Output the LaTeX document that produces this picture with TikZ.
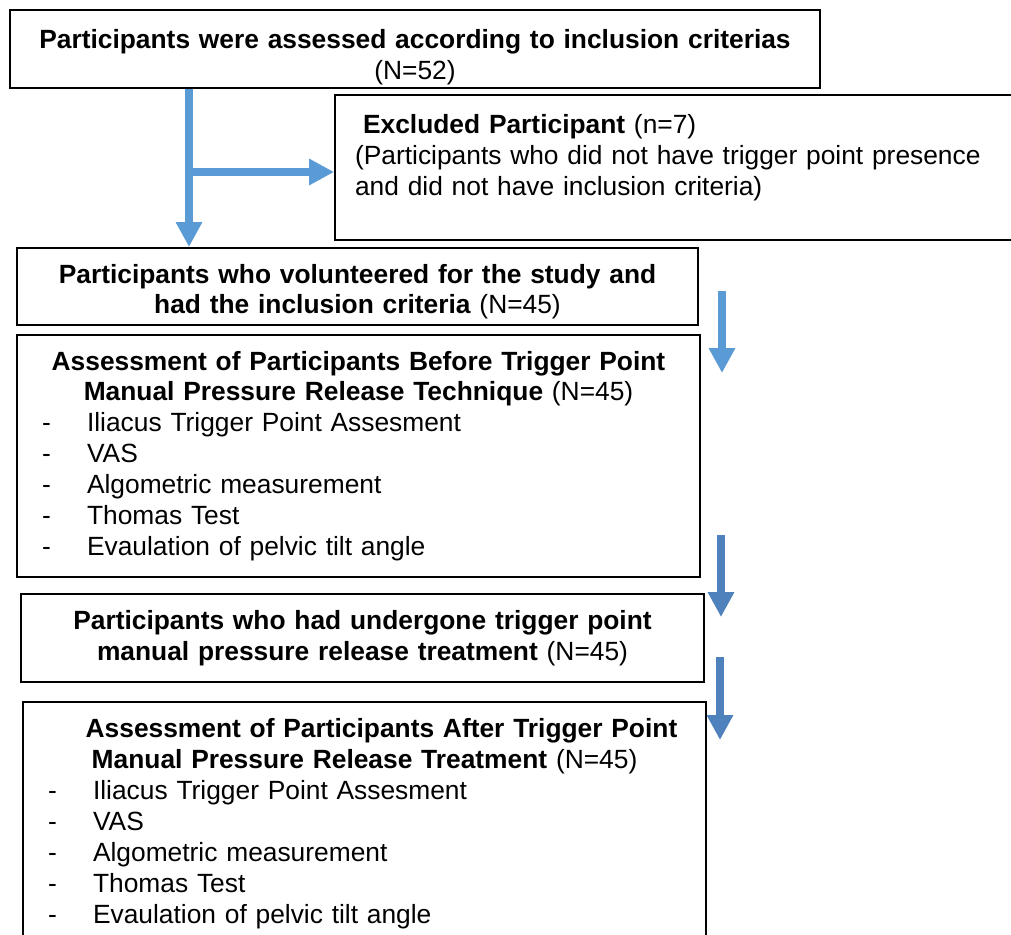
\documentclass[tikz,border=0pt]{standalone}
\usepackage{fontspec}
\setmainfont{Liberation Sans}
\usetikzlibrary{arrows.meta}
\definecolor{flowblue}{HTML}{5B9BD5}
\definecolor{flowdark}{HTML}{4F81BD}
\newcommand{\itm}[1]{\hspace*{0.5cm}\makebox[0.9cm][l]{-}#1\hfill\mbox{}}
\newcommand{\topgap}[1]{\rule{0pt}{#1}}

\begin{document}
\begin{tikzpicture}[
        x=0.02cm, y=-0.02cm,
        font=\fontsize{15.0}{17.6}\selectfont,
        box/.style={draw, line width=0.04cm, inner xsep=0pt, inner ysep=0pt,
                    align=center},
        flow/.style={line width=0.16cm, -{Triangle[width=0.5cm,length=0.5cm]}},
    ]
        \useasboundingbox (0,0) rectangle (1011,934);
        % Screening and exclusion.
        \node[box, text width=16.2cm, minimum height=1.56cm] (screen) at (415,49)
            {\topgap{0.71cm}\textbf{Participants were assessed according to inclusion criterias}\\(N=52)};
        \node[box, align=left, inner xsep=0.4cm, text width=12.9cm, minimum height=2.9cm]
            (excl) at (677.5,167.5)
            {\topgap{0.51cm}\hspace*{0.16cm}\textbf{Excluded Participant} (n=7)\\
             (Participants who did not have trigger point presence\\
             and did not have inclusion criteria)\\\mbox{}};
        \node[box, text width=13.62cm, minimum height=1.54cm] (vol) at (357.5,286.5)
            {\topgap{0.59cm}\textbf{Participants who volunteered for the study and}\\
             \textbf{had the inclusion criteria} (N=45)};
        % Before / treatment / after.
        \node[box, text width=13.66cm, minimum height=4.84cm] (pre) at (358.5,456)
            {\textbf{Assessment of Participants Before Trigger Point}\\
             \textbf{Manual Pressure Release Technique} (N=45)\\
             \itm{Iliacus Trigger Point Assesment}\\
             \itm{VAS}\\
             \itm{Algometric measurement}\\
             \itm{Thomas Test}\\
             \itm{Evaulation of pelvic tilt angle}};
        \node[box, text width=13.66cm, minimum height=1.76cm] (treat) at (362.5,638)
            {\textbf{Participants who had undergone trigger point}\\
             \textbf{manual pressure release treatment} (N=45)};
        \node[box, text width=13.66cm, minimum height=4.86cm] (post) at (364.5,823.5)
            {\hspace*{0.68cm}\textbf{Assessment of Participants After Trigger Point}\\
             \textbf{Manual Pressure Release Treatment} (N=45)\\
             \itm{Iliacus Trigger Point Assesment}\\
             \itm{VAS}\\
             \itm{Algometric measurement}\\
             \itm{Thomas Test}\\
             \itm{Evaulation of pelvic tilt angle}};
        % Arrows.
        \coordinate (split) at (189,172);
        \draw[flow, flowblue] (screen.south -| split) -- (vol.north -| split);
        \draw[flow, flowblue] (split) -- (split -| excl.west);
        \coordinate (s1) at (722,291);
        \coordinate (e1) at (722,373);
        \coordinate (s2) at (721,535);
        \coordinate (e2) at (721,617);
        \coordinate (s3) at (720,657);
        \coordinate (e3) at (720,740);
        \draw[flow, flowblue] (s1) -- (e1);
        \draw[flow, flowdark] (s2) -- (e2);
        \draw[flow, flowdark] (s3) -- (e3);
    \end{tikzpicture}
\end{document}
